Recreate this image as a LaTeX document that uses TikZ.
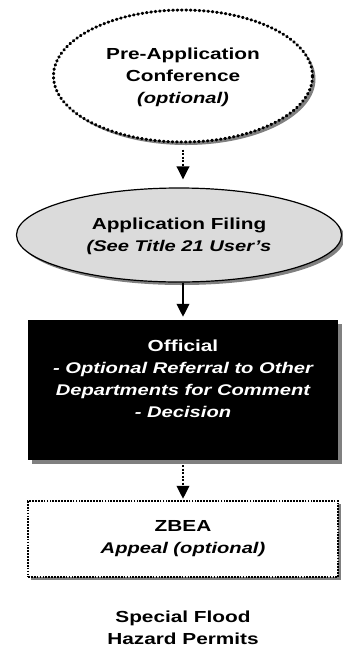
\documentclass[tikz,border=0pt]{standalone}
\usepackage{fontspec}
\setmainfont{Liberation Sans}[FakeStretch=1.3]
\usetikzlibrary{shapes.geometric,shadows,arrows.meta}
\newcommand{\slnote}[1]{{\itshape\fontsize{15.5}{22}\selectfont #1}}
\begin{document}
\begin{tikzpicture}[x=1pt,y=1pt,
    every node/.style={font=\bfseries\fontsize{16}{22}\selectfont,align=center,inner sep=0pt},
    shade3/.style={drop shadow={shadow xshift=3pt,shadow yshift=-3pt,fill=black!50,opacity=1}},
    optel/.style={ellipse,draw,line width=3pt,line cap=round,dash pattern=on 0.8pt off 3.6pt,fill=white,shade3},
    filel/.style={ellipse,draw,line width=1.2pt,fill=black!14,shade3},
    blackbox/.style={rectangle,fill=black,text=white,
      drop shadow={shadow xshift=4pt,shadow yshift=-4pt,fill=black!50,opacity=1}},
    dotbox/.style={rectangle,draw,line width=2.4pt,dash pattern=on 1.7pt off 1.2pt,fill=white,shade3},
    dotarr/.style={line width=2.2pt,dash pattern=on 2pt off 1.5pt,-{Triangle[width=12.5pt,length=13pt]}},
    solarr/.style={line width=2pt,-{Triangle[width=12.5pt,length=13pt]}}]
  \useasboundingbox (0,0) rectangle (343,-649);
  \def\x{183}
  \node[optel,minimum width=259pt,minimum height=132pt,text depth=0pt] (A0_0) at (\x,-76)
    {\fontsize{16}{23.7}\selectfont Pre-Application\\Conference\\\slnote{(optional)}};
  \node[filel,minimum width=325pt,minimum height=94pt,text depth=0pt] (A1_0) at (179,-235)
    {Application Filing\\\slnote{(See Title 21 User’s}};
  \node[blackbox,minimum width=310pt,minimum height=140pt,text depth=22pt] (A2_0) at (\x,-390)
    {Official\\\slnote{- Optional Referral to Other}\\\slnote{Departments for Comment}\\\slnote{- Decision}};
  \node[dotbox,minimum width=310pt,minimum height=76pt] (A3_0) at (\x,-539)
    {ZBEA\\\slnote{Appeal (optional)}};
  \node[text depth=0pt] (A4_0) at (\x,-628) {\fontsize{16}{27}\selectfont Special Flood\\Hazard Permits};
  \draw[dotarr,shorten <=6pt,shorten >=8pt] (A0_0.south) -- (A0_0.south |- A1_0.north);
  \draw[solarr,shorten >=3pt] (A0_0.south |- A1_0.south) -- (A2_0.north);
  \draw[dotarr,shorten <=5pt,shorten >=1pt] (A2_0.south) -- (A3_0.north);
\end{tikzpicture}
\end{document}
